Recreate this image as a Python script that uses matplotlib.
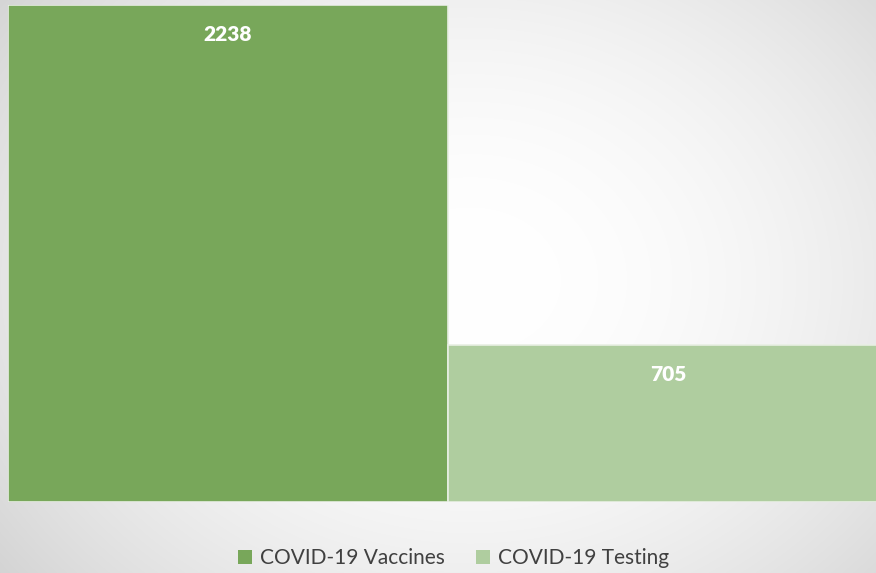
import numpy as np
import matplotlib.pyplot as plt
from matplotlib.patches import Patch

# data
categories = ["COVID-19 Vaccines", "COVID-19 Testing"]
values = [2238, 705]
colors = ["#78a75a", "#afcd9f"]

plt.rcParams['font.family'] = ['Lato', 'DejaVu Sans']

W, H = 876, 573
fig = plt.figure(figsize=(W / 100, H / 100), dpi=100)

# radial grey background
bg = fig.add_axes([0, 0, 1, 1], zorder=0)
yy, xx = np.mgrid[0:H, 0:W]
r = np.sqrt(((xx - 470) / 520.0) ** 2 + ((yy - 280) / 420.0) ** 2)
shade = 1 - 0.13 * np.clip(r, 0, 1.4) ** 2
bg.imshow(np.dstack([shade] * 3), aspect='auto', extent=[0, 1, 0, 1])
bg.axis('off')

# bars
ax = fig.add_axes([8 / W, 1 - 502 / H, 880 / W, 497 / H], zorder=1)
ax.patch.set_alpha(0)
x = np.arange(len(values))
bars = ax.bar(x, values, width=1.0, color=colors, edgecolor='#e8efe3', linewidth=1.2)
ax.set_xlim(-0.5, 1.5)
ax.set_ylim(0, max(values))
ax.axis('off')

for xi, v in zip(x, values):
    ax.annotate(str(v), (xi, v), xytext=(0, -21), textcoords='offset points',
                ha='center', va='center', color='white', fontsize=15,
                fontweight='heavy')

handles = [Patch(facecolor=c, edgecolor='none') for c in colors]
fig.legend(handles, categories, loc='center', bbox_to_anchor=(0.518, 1 - 558 / H),
           ncol=2, frameon=False, fontsize=15, labelcolor='#404040',
           handlelength=0.65, handleheight=0.65, handletextpad=0.4, columnspacing=1.5)

fig.savefig('out.png', dpi=100)
